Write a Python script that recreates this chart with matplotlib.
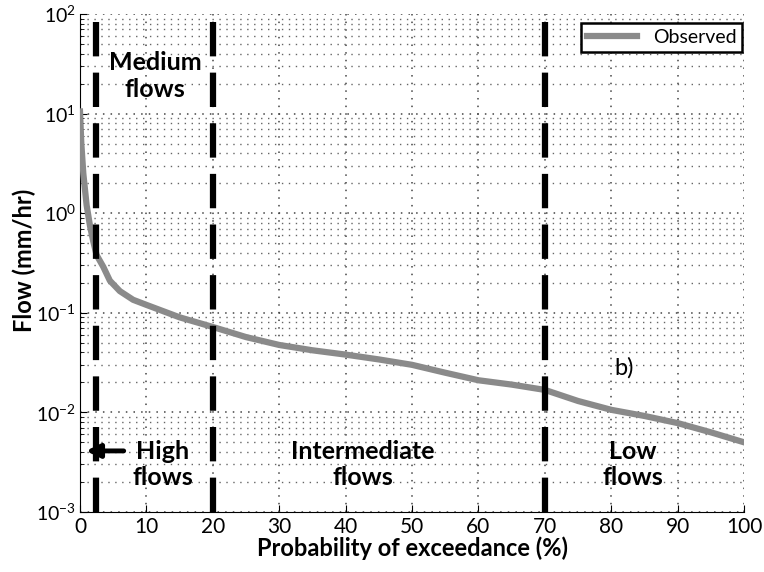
import numpy as np
import matplotlib.pyplot as plt
from matplotlib.ticker import LogLocator, NullFormatter

plt.rcParams['font.family'] = ['Lato', 'DejaVu Sans']

# Flow duration curve (exceedance probability in %, flow in mm/hr)
prob = [0, 0.2, 0.5, 1, 1.5, 2, 2.5, 3.5, 4.5, 6, 8, 10, 15, 20, 25, 30, 35, 40,
        45, 50, 55, 60, 65, 70, 75, 80, 85, 90, 95, 100]
flow = [10.5, 5.0, 2.5, 1.2, 0.75, 0.52, 0.38, 0.29, 0.21, 0.165, 0.135, 0.12,
        0.09, 0.072, 0.057, 0.0475, 0.042, 0.038, 0.034, 0.030, 0.025, 0.021,
        0.019, 0.0168, 0.013, 0.0106, 0.0092, 0.0078, 0.0063, 0.0050]

# Boundaries between flow regimes
bounds = [2.4, 20, 70]

fig = plt.figure(figsize=(7.64, 5.72), dpi=100)
ax = fig.add_axes([0.1047, 0.105, 0.8693, 0.8705])

ax.semilogy(prob, flow, color='#8a8a8a', lw=4.5, label='Observed', zorder=3)

for b in bounds:
    ax.axvline(b, color='black', lw=4.5, ls=(0, (5.5, 2.6)), zorder=4)

ax.set_xlim(0, 100)
ax.set_ylim(1e-3, 1e2)
ax.set_xticks(np.arange(0, 101, 10))
ax.yaxis.set_major_locator(LogLocator(base=10, numticks=10))
ax.yaxis.set_minor_locator(LogLocator(base=10, subs=np.arange(2, 10), numticks=10))
ax.yaxis.set_minor_formatter(NullFormatter())

ax.grid(which='major', ls=(0, (1, 4)), color='#444444', lw=1.1)
ax.grid(which='minor', axis='y', ls=(0, (1, 4)), color='#666666', lw=1)
ax.tick_params(which='both', direction='in')
ax.tick_params(axis='x', labelsize=15)
ax.tick_params(axis='y', labelsize=14, pad=3)
ax.tick_params(which='major', length=5)
ax.tick_params(which='minor', length=3)
ax.spines['top'].set_visible(False)
ax.spines['right'].set_visible(False)

ax.set_xlabel('Probability of exceedance (%)', fontsize=17, fontweight='bold', labelpad=0)
fig.text(24 / 764, 1 - 260 / 572, 'Flow (mm/hr)', rotation=90, fontsize=17,
         fontweight='bold', ha='center', va='center')

txt = dict(fontsize=18, fontweight='bold', ha='center', va='center',
           linespacing=1.2, zorder=5)
ax.text(11.3, 24, 'Medium\nflows', **txt)
ax.text(12.5, 0.0030, 'High\nflows', **txt)
ax.text(42.6, 0.0030, 'Intermediate\nflows', **txt)
ax.text(83.3, 0.0030, 'Low\nflows', **txt)
ax.text(82, 0.028, 'b)', fontsize=17, ha='center', va='center')

ax.annotate('', xy=(0.5, 0.0041), xytext=(7, 0.0041),
            arrowprops=dict(arrowstyle='-|>', color='black', lw=3.5,
                            mutation_scale=20), zorder=5)

leg = ax.legend(loc='upper right', bbox_to_anchor=(0.997, 0.982), fontsize=14,
                frameon=True, fancybox=False, handlelength=2.6,
                borderaxespad=0, borderpad=0.3)
leg.get_frame().set_edgecolor('black')
leg.get_frame().set_linewidth(1.8)
leg.get_frame().set_alpha(1)

fig.savefig('out.png', dpi=100)
